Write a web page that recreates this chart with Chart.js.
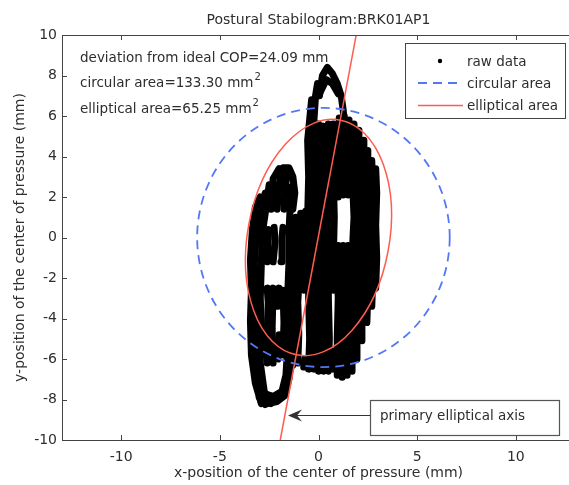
<!DOCTYPE html>
<html>
<head>
<meta charset="utf-8">
<script src="https://cdn.jsdelivr.net/npm/chart.js@4.4.1/dist/chart.umd.min.js"></script>
<style>
  html, body { margin: 0; padding: 0; background: #fff; overflow: hidden; }
  #wrap { width: 569px; height: 485px; overflow: hidden; }
</style>
</head>
<body>
<div id="wrap"><canvas id="chart" width="600" height="485"></canvas></div>
<script>
const xTicks = [-10, -5, 0, 5, 10];
const yTicks = [-10, -8, -6, -4, -2, 0, 2, 4, 6, 8, 10];

// primary elliptical axis (end points on the plot frame)
const axisX = [-1.94, 1.91];
const axisY = [-10, 10];

// fitted circle and ellipse
const circleCenter = [0.25, 0];
const circleRadius = 6.4;
const ellipseCenter = [0, 0];
const ellipseAxes = [5.9, 3.59];   // semi-major, semi-minor
const ellipseTilt = 10.9;          // degrees, clockwise from vertical

const statLines = ['deviation from ideal COP=24.09 mm', 'circular area=133.30 mm', 'elliptical area=65.25 mm'];
const statSup = ['', '2', '2'];
const legendLabels = ['raw data', 'circular area', 'elliptical area'];

// centre of pressure trace, traced stroke by stroke (null = pen up)
const rawPoints = [
  [-2.9,-8.2],[-3.2,-7.2],[-3.4,-5.8],[-3.45,-4.1],[-3.4,-2.6],[-3.45,-1.1],[-3.35,0.4],[-3.2,1.5],[-2.95,2.0], null,
  [-2.7,-8.25],[-3.0,-7.4],[-3.2,-6.0],[-3.2,-4.4],[-3.15,-2.8],[-3.25,-1.3],[-3.15,0.3],[-2.9,1.3],[-2.7,2.2], null,
  [-2.4,-8.2],[-2.75,-7.6],[-2.95,-6.2],[-2.9,-4.6],[-2.95,-3.0],[-2.9,-1.4],[-2.85,0.2],[-2.7,1.2],[-2.5,2.6], null,
  [-3.0,-7.9],[-2.6,-8.2],[-2.1,-8.1],[-1.7,-7.8],[-1.5,-7.0],[-1.4,-6.2],[-1.45,-5.4], null,
  [-2.8,-7.7],[-2.3,-7.85],[-1.85,-7.6],[-1.65,-6.8],[-1.6,-6.0], null,
  [-2.6,-6.2],[-2.6,-4.8],[-2.55,-3.2],[-2.6,-2.5], null,
  [-2.6,-1.2],[-2.55,0.0],[-2.55,0.4], null,
  [-2.4,1.4],[-2.3,2.9],[-2.0,3.4], null,
  [-2.3,-6.2],[-2.35,-4.5],[-2.3,-2.5], null,
  [-2.05,-6.0],[-2.0,-4.8], null,
  [-2.05,-3.4],[-2.0,-2.5], null,
  [-2.3,-1.2],[-2.2,-0.2],[-2.25,0.5], null,
  [-2.1,1.4],[-2.0,2.6],[-1.8,3.45],[-1.5,3.45],[-1.3,3.0],[-1.2,2.2],[-1.3,1.4], null,
  [-1.8,-5.8],[-1.75,-4.2],[-1.8,-2.6], null,
  [-1.9,-1.2],[-1.85,0.0],[-1.8,0.5], null,
  [-1.75,1.4],[-1.7,2.5],[-1.55,3.2], null,
  [-1.55,-6.0],[-1.5,-4.5],[-1.55,-2.6],[-1.5,-1.3],[-1.5,0.2],[-1.45,1.2],[-1.45,2.5], null,
  [-1.3,-6.3],[-1.25,-4.5],[-1.3,-3.0],[-1.25,-1.5],[-1.2,0.0],[-1.15,1.0], null,
  [-1.05,-6.2],[-1.0,-4.8],[-1.05,-3.2],[-0.95,-1.5],[-0.95,0.2],[-0.9,1.2], null,
  [-0.75,-6.4],[-0.7,-6.0], null,
  [-0.75,-2.6],[-0.7,-1.0],[-0.7,0.5],[-0.65,1.3], null,
  [-0.5,-6.5],[-0.45,-5.0],[-0.5,-3.0],[-0.5,-1.0],[-0.55,1.0],[-0.5,3.0],[-0.55,4.8],[-0.45,5.8],[-0.35,6.8], null,
  [-0.25,-6.5],[-0.2,-4.5],[-0.25,-2.5],[-0.3,-0.5],[-0.25,1.5],[-0.3,3.5],[-0.25,5.5],[-0.15,7.0],[-0.05,7.6], null,
  [0.0,-6.6],[0.05,-4.8],[0.0,-2.8],[0.05,-0.8],[0.0,1.2],[0.05,3.2],[0.0,5.6], null,
  [0.05,7.0],[0.2,8.0],[0.45,8.4],[0.7,8.1],[0.95,7.6],[1.15,7.0],[1.25,6.3],[1.3,5.8], null,
  [0.1,7.2],[0.4,7.8],[0.7,7.6],[1.0,7.1], null,
  [0.25,-6.6],[0.3,-4.5],[0.25,-2.5],[0.3,-0.5],[0.25,1.5],[0.3,3.5],[0.2,5.5], null,
  [0.5,-6.6],[0.55,-5.0],[0.5,-3.0],[0.5,-1.0],[0.55,1.0],[0.5,3.0],[0.55,5.0],[0.5,5.6], null,
  [0.75,-6.5],[0.72,-5.6], null,
  [0.75,-2.6],[0.75,-1.0],[0.8,1.0],[0.75,3.0],[0.8,5.0],[0.75,5.6], null,
  [0.95,-6.8],[0.95,-5.0],[1.0,-3.0],[0.95,-1.5],[1.0,-0.4], null,
  [1.0,2.0],[1.0,4.0],[1.05,5.9], null,
  [1.2,-6.9],[1.2,-5.0],[1.25,-3.0],[1.2,-1.5],[1.25,-0.4], null,
  [1.25,2.1],[1.2,4.0],[1.3,6.0], null,
  [1.45,-6.8],[1.45,-5.0],[1.5,-3.0],[1.45,-1.5],[1.5,-0.4], null,
  [1.5,2.1],[1.5,4.0],[1.55,5.8], null,
  [1.7,-6.6],[1.7,-5.0],[1.75,-3.0],[1.7,-1.2],[1.75,0.0],[1.8,1.0],[1.75,2.2],[1.8,4.0],[1.8,5.6], null,
  [1.95,-6.0],[1.95,-4.5],[2.0,-3.0],[2.0,-1.0],[1.95,0.5],[2.0,2.2],[2.05,4.0],[2.05,5.3], null,
  [2.2,-5.1],[2.2,-3.5],[2.25,-2.0],[2.2,0.0],[2.25,2.0],[2.3,3.5],[2.3,4.8], null,
  [2.45,-4.2],[2.5,-2.8],[2.45,-1.0],[2.5,1.0],[2.5,2.8],[2.5,4.3], null,
  [2.7,-3.4],[2.75,-2.0],[2.7,0.0],[2.75,2.0],[2.7,3.8], null,
  [2.9,-2.5],[2.95,-1.0],[2.9,0.6],[2.95,2.2],[2.9,3.4]
];

const RED = '#ff5c50';
const BLUE = '#5478f5';
const INK = '#2e2e2e';
const FONT = '"DejaVu Sans", Verdana, sans-serif';
const FS = 14;

// split the trace into pen strokes, one line dataset each
const strokes = [[]];
rawPoints.forEach(p => {
  if (p) strokes[strokes.length - 1].push({ x: p[0], y: p[1] });
  else strokes.push([]);
});

const stabPlugin = {
  id: 'stab',
  beforeDraw(chart) {
    const { ctx, width, height } = chart;
    ctx.save();
    ctx.fillStyle = '#fff';
    ctx.fillRect(0, 0, width, height);
    ctx.restore();
  },
  afterDatasetsDraw(chart) {
    const { ctx, chartArea: a, scales: { x, y } } = chart;
    const ux = x.getPixelForValue(1) - x.getPixelForValue(0);
    const uy = y.getPixelForValue(0) - y.getPixelForValue(1);
    ctx.save();
    ctx.beginPath();
    ctx.rect(a.left, a.top, a.right - a.left, a.bottom - a.top);
    ctx.clip();

    // circular area
    ctx.beginPath();
    ctx.ellipse(x.getPixelForValue(circleCenter[0]), y.getPixelForValue(circleCenter[1]),
      circleRadius * ux, circleRadius * uy, 0, 0, 2 * Math.PI);
    ctx.strokeStyle = BLUE;
    ctx.lineWidth = 1.8;
    ctx.setLineDash([9, 6]);
    ctx.stroke();

    // elliptical area, tilted in data space
    ctx.save();
    ctx.translate(x.getPixelForValue(ellipseCenter[0]), y.getPixelForValue(ellipseCenter[1]));
    ctx.scale(ux, -uy);
    ctx.rotate(-ellipseTilt * Math.PI / 180);
    ctx.beginPath();
    ctx.ellipse(0, 0, ellipseAxes[1], ellipseAxes[0], 0, 0, 2 * Math.PI);
    ctx.restore();
    ctx.setLineDash([]);
    ctx.strokeStyle = RED;
    ctx.lineWidth = 1.5;
    ctx.stroke();
    ctx.restore();
  },
  afterDraw(chart) {
    const { ctx, chartArea: a, scales: { x, y } } = chart;
    ctx.save();

    // frame + inward ticks
    ctx.strokeStyle = '#444';
    ctx.lineWidth = 1;
    ctx.strokeRect(a.left + 0.5, a.top + 0.5, a.right - a.left, a.bottom - a.top);
    ctx.beginPath();
    xTicks.forEach(v => {
      const px = Math.round(x.getPixelForValue(v)) + 0.5;
      ctx.moveTo(px, a.bottom); ctx.lineTo(px, a.bottom - 5);
      ctx.moveTo(px, a.top); ctx.lineTo(px, a.top + 5);
    });
    yTicks.forEach(v => {
      const py = Math.round(y.getPixelForValue(v)) + 0.5;
      ctx.moveTo(a.left, py); ctx.lineTo(a.left + 5, py);
    });
    ctx.stroke();

    // title
    ctx.fillStyle = INK;
    ctx.font = FS + 'px ' + FONT;
    ctx.textAlign = 'center';
    ctx.textBaseline = 'middle';
    ctx.fillText('Postural Stabilogram:BRK01AP1', (a.left + a.right) / 2, 20);

    // stats text
    ctx.textAlign = 'left';
    statLines.forEach((t, i) => {
      const ty = 58 + i * 25.5;
      ctx.font = '13.5px ' + FONT;
      ctx.fillText(t, 80, ty);
      if (statSup[i]) {
        const w = ctx.measureText(t).width;
        ctx.font = '10px ' + FONT;
        ctx.fillText(statSup[i], 80 + w + 1, ty - 6);
      }
    });

    // legend
    ctx.fillStyle = '#fff';
    ctx.fillRect(405, 43, 160, 75);
    ctx.strokeStyle = '#444';
    ctx.strokeRect(405.5, 43.5, 160, 75);
    ctx.font = '13.5px ' + FONT;
    ctx.fillStyle = INK;
    legendLabels.forEach((t, i) => ctx.fillText(t, 467, 62 + i * 22));
    ctx.fillStyle = '#000';
    ctx.beginPath(); ctx.arc(440, 61, 2.2, 0, 2 * Math.PI); ctx.fill();
    ctx.strokeStyle = BLUE; ctx.lineWidth = 1.8; ctx.setLineDash([9, 6]);
    ctx.beginPath(); ctx.moveTo(418, 83); ctx.lineTo(463, 83); ctx.stroke();
    ctx.setLineDash([]);
    ctx.strokeStyle = RED; ctx.lineWidth = 1.5;
    ctx.beginPath(); ctx.moveTo(418, 105.5); ctx.lineTo(463, 105.5); ctx.stroke();

    // annotation box and arrow
    ctx.fillStyle = '#fff';
    ctx.fillRect(370, 400, 189, 35);
    ctx.strokeStyle = '#555'; ctx.lineWidth = 1.2;
    ctx.strokeRect(370.5, 400.5, 189, 35);
    ctx.fillStyle = INK;
    ctx.font = '13.5px ' + FONT;
    ctx.fillText('primary elliptical axis', 380, 416);
    ctx.strokeStyle = '#333'; ctx.lineWidth = 1;
    ctx.beginPath(); ctx.moveTo(370, 415.5); ctx.lineTo(292, 415.5); ctx.stroke();
    ctx.fillStyle = '#333';
    ctx.beginPath();
    ctx.moveTo(288, 415.5); ctx.lineTo(302, 409.5); ctx.lineTo(297, 415.5); ctx.lineTo(302, 421.5);
    ctx.closePath(); ctx.fill();

    ctx.restore();
  }
};

const tickFont = { family: FONT, size: FS };

const rawSets = strokes.map(pts => ({
  label: 'raw data',
  data: pts,
  showLine: true,
  borderColor: '#000',
  backgroundColor: '#000',
  borderWidth: 7,
  borderJoinStyle: 'round',
  borderCapStyle: 'round',
  pointRadius: 2,
  pointBorderWidth: 0
}));

new Chart(document.getElementById('chart'), {
  type: 'scatter',
  data: {
    datasets: [
      {
        label: 'primary elliptical axis',
        data: axisX.map((v, i) => ({ x: v, y: axisY[i] })),
        showLine: true, borderColor: RED, borderWidth: 1.5, pointRadius: 0
      },
      ...rawSets
    ]
  },
  options: {
    responsive: false,
    animation: false,
    devicePixelRatio: 1,
    layout: { padding: { top: 35, right: 25, left: 0, bottom: 0 } },
    plugins: { legend: { display: false }, tooltip: { enabled: false } },
    scales: {
      x: {
        type: 'linear', min: -13, max: 13,
        afterBuildTicks: s => { s.ticks = xTicks.map(v => ({ value: v })); },
        afterFit: s => { s.height = 45; },
        grid: { display: false, drawTicks: false },
        border: { display: false },
        ticks: { color: INK, font: tickFont, padding: 9, maxRotation: 0 },
        title: { display: true, text: 'x-position of the center of pressure (mm)', color: INK, font: tickFont, padding: { top: 0, bottom: 3 } }
      },
      y: {
        type: 'linear', min: -10, max: 10,
        afterBuildTicks: s => { s.ticks = yTicks.map(v => ({ value: v })); },
        afterFit: s => { s.width = 62; },
        grid: { display: false, drawTicks: false },
        border: { display: false },
        ticks: { color: INK, font: tickFont, padding: 5 },
        title: { display: true, text: 'y-position of the center of pressure (mm)', color: INK, font: tickFont, padding: { top: 12, bottom: 0 } }
      }
    }
  },
  plugins: [stabPlugin]
});
</script>
</body>
</html>
